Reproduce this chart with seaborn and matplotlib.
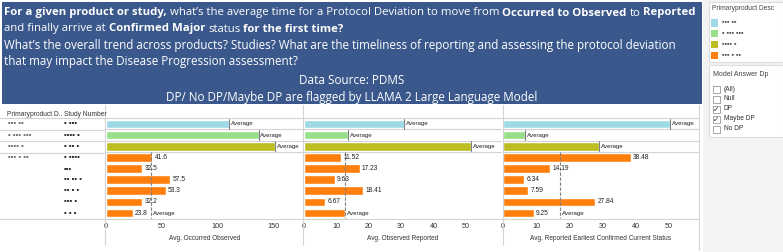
import numpy as np
import pandas as pd
import matplotlib
matplotlib.use('Agg')
import matplotlib.pyplot as plt
from matplotlib.patches import Rectangle
from matplotlib.lines import Line2D
import seaborn as sns

sns.set_theme(style="white")
plt.rcParams['font.family'] = ['Liberation Sans', 'DejaVu Sans']

W, H = 783, 252

# names are pixelated in the source dashboard, kept as redaction blocks
product_names = ['▪▪▪ ▪▪', '▪ ▪▪▪ ▪▪▪', '▪▪▪▪ ▪', '▪▪▪ ▪ ▪▪']
product_colors = ['#9edae5', '#98df8a', '#bcbd22', '#ff7f0e']
study_numbers = ['▪ ▪▪▪', '▪▪▪▪ ▪', '▪ ▪▪ ▪', '▪ ▪▪▪▪', '▪▪▪', '▪▪ ▪▪ ▪', '▪▪ ▪ ▪', '▪▪▪ ▪', '▪ ▪ ▪']
study_product = [0, 1, 2, 3, 3, 3, 3, 3, 3]

occurred_observed = [110.5, 136.6, 151.0, 41.6, 32.5, 57.5, 53.3, 32.2, 23.8]
observed_reported = [30.8, 13.7, 51.6, 11.52, 17.23, 9.63, 18.41, 6.67, 12.9]
reported_confirmed = [50.3, 6.7, 28.8, 38.48, 14.19, 6.34, 7.59, 27.84, 9.25]

measures = [
    ('occ', 'Avg. Occurred Observed', occurred_observed, '{:.1f}', [0, 50, 100, 150], 176),
    ('obs', 'Avg. Observed Reported', observed_reported, '{:.2f}', [0, 10, 20, 30, 40, 50], 61),
    ('rep', 'Avg. Reported Earliest Confirmed Current Status', reported_confirmed, '{:.2f}', [0, 10, 20, 30, 40, 50], 59),
]

legend_filter = ['(All)', 'Null', 'DP', 'Maybe DP', 'No DP']
filter_checked = [False, False, True, True, False]

df = pd.DataFrame({
    'row': [f"r{i}" for i in range(len(study_numbers))],
    'product': [product_names[p] for p in study_product],
    'study': study_numbers,
    'occ': occurred_observed,
    'obs': observed_reported,
    'rep': reported_confirmed,
})
rows = list(df['row'])
palette = dict(zip(product_names, product_colors))

fig = plt.figure(figsize=(W / 100, H / 100), dpi=100)
r = fig.canvas.get_renderer()


def fx(x):
    return x / W


def fy(y):
    return 1 - y / H


def add_ax(x0, x1, y0, y1):
    return fig.add_axes([fx(x0), fy(y1), (x1 - x0) / W, (y1 - y0) / H])


def hline(x0, x1, y, c='#d4d4d4', lw=0.8):
    fig.add_artist(Line2D([fx(x0), fx(x1)], [fy(y), fy(y)], color=c, lw=lw))


def vline(x, y0, y1, c='#d4d4d4', lw=0.8):
    fig.add_artist(Line2D([fx(x), fx(x)], [fy(y0), fy(y1)], color=c, lw=lw))


# ---- header box ----
fig.add_artist(Rectangle((fx(2), fy(104)), fx(700), 102 / H, color='#3a588b', lw=0))
hfont = ['Open Sans', 'DejaVu Sans']
hsize = 8.2


def text_w(s, **kw):
    t = fig.text(0, 0, s, **kw)
    w = t.get_window_extent(renderer=r).width
    t.remove()
    return w


def rich_line(x, y, parts, size):
    for s, bold in parts:
        kw = dict(fontsize=size, family=hfont, fontweight='bold' if bold else 'normal')
        sp = text_w('x x', **kw) - text_w('xx', **kw)
        lead = len(s) - len(s.lstrip(' '))
        trail = len(s) - len(s.rstrip(' '))
        x += lead * sp
        core = s.strip(' ')
        fig.text(fx(x), fy(y), core, color='white', va='center', ha='left', **kw)
        x += text_w(core, **kw) + trail * sp


rich_line(4, 13, [("For a given product or study,", True),
                  (" what’s the average time for a Protocol Deviation to move from ", False),
                  ("Occurred to Observed", True), (" to ", False), ("Reported", True)], hsize)
rich_line(4, 29, [("and finally arrive at ", False), ("Confirmed Major", True),
                  (" status ", False), ("for the first time?", True)], hsize)
rich_line(4, 46, [("What’s the overall trend across products? Studies? What are the timeliness of "
                   "reporting and assessing the protocol deviation", False)], hsize + 0.2)
rich_line(4, 62, [("that may impact the Disease Progression assessment?", False)], hsize + 0.2)
fig.text(fx(352), fy(81), "Data Source: PDMS", color='white', ha='center', va='center',
         fontsize=8.5, family=hfont)
fig.text(fx(352), fy(97), "DP/ No DP/Maybe DP are flagged by LLAMA 2 Large Language Model",
         color='white', ha='center', va='center', fontsize=8.4, family=hfont)

# ---- chart area ----
Y0, Y1 = 118.3, 218.7
panels = [(106, 302.5), (303.5, 502), (503, 699)]
n = len(rows)

# row label area
lab = add_ax(0, 105, Y0, Y1)
lab.set_xlim(0, 105)
lab.set_ylim(n - 0.5, -0.5)
lab.axis('off')
first_rows = {}
for i, p in enumerate(study_product):
    first_rows.setdefault(p, i)
for p, i in first_rows.items():
    lab.text(8, i, product_names[p], fontsize=5.6, color='#777777', va='center', ha='left')
for i, s in enumerate(study_numbers):
    lab.text(64, i, s, fontsize=5.6, color='#333333', va='center', ha='left')
fig.text(fx(7), fy(114), "Primaryproduct D..", fontsize=4.8, color='#333333', va='center')
fig.text(fx(64), fy(114), "Study Number", fontsize=4.8, color='#333333', va='center')

for (key, title, vals, fmt, ticks, xmax), (x0, x1) in zip(measures, panels):
    ax = add_ax(x0, x1, Y0, Y1)
    sns.barplot(data=df, x=key, y='row', hue='product', order=rows, hue_order=product_names,
                palette=palette, dodge=False, width=0.78, saturation=1, legend=False, ax=ax)
    ax.set_xlim(0, xmax)
    ax.set_ylim(n - 0.5, -0.5)
    ax.set_yticks([])
    ax.set_ylabel('')
    ax.set_xticks(ticks)
    ax.tick_params(axis='x', length=0, pad=3, labelsize=5.2, labelcolor='#333333')
    ax.set_xlabel(title, fontsize=4.7, color='#333333', labelpad=3.5)
    for sp in ax.spines.values():
        sp.set_visible(False)
    for b in [0.5, 1.5, 2.5]:
        ax.axhline(b, color='#d4d4d4', lw=0.8)

    for p in range(len(product_names)):
        idx = [i for i, q in enumerate(study_product) if q == p]
        lo, hi = min(idx), max(idx)
        m = np.mean([vals[i] for i in idx])
        ax.plot([m, m], [lo - 0.45, hi + 0.45], color='#808080', lw=0.8,
                ls=(0, (3, 1.5)) if len(idx) > 1 else '-')
        ax.text(m + xmax * 0.01, hi, 'Average', fontsize=4.4, color='#222222', va='center', ha='left')
        for i in idx:
            v = vals[i]
            if i == hi and abs(v - m) < 0.05 * xmax:
                continue
            ax.text(v + xmax * 0.012, i, fmt.format(v), fontsize=4.8, color='#222222',
                    va='center', ha='left')

# frame lines
hline(0, 699, Y0)
hline(0, 699, Y1)
for b in [129.5, 140.6, 152.7]:
    hline(0, 105, b)
for x in [105.5, 303, 502.5, 699]:
    vline(x, 105, 245 if x < 699 else 250)

# ---- right side filters ----
fig.add_artist(Rectangle((fx(703), 0), fx(80), 1, color='#f3f3f3', lw=0))
fig.add_artist(Rectangle((fx(709), fy(62)), fx(74), 60 / H, facecolor='white',
                         edgecolor='#dddddd', lw=0.8))
fig.add_artist(Rectangle((fx(709), fy(137)), fx(74), 72 / H, facecolor='white',
                         edgecolor='#dddddd', lw=0.8))
fig.text(fx(712), fy(9), "Primaryproduct Desc", fontsize=4.8, color='#444444', va='center')
for k, (name, c) in enumerate(zip(product_names, product_colors)):
    y = 23 + k * 10.7
    fig.add_artist(Rectangle((fx(711), fy(y + 3.5)), 7 / W, 7 / H, color=c, lw=0))
    fig.text(fx(722), fy(y), name, fontsize=5.0, color='#555555', va='center')
fig.text(fx(713), fy(75), "Model Answer Dp", fontsize=5.0, color='#444444', va='center')
for k, (lbl, chk) in enumerate(zip(legend_filter, filter_checked)):
    y = 89 + k * 10
    fig.add_artist(Rectangle((fx(713), fy(y + 3.5)), 7 / W, 7 / H, facecolor='white',
                             edgecolor='#999999', lw=0.6))
    if chk:
        fig.text(fx(716.5), fy(y), '✓', fontsize=5.5, color='#333333', ha='center', va='center',
                 family='DejaVu Sans')
    fig.text(fx(724), fy(y), lbl, fontsize=4.8, color='#333333', va='center')

fig.savefig('out.png', dpi=100)
